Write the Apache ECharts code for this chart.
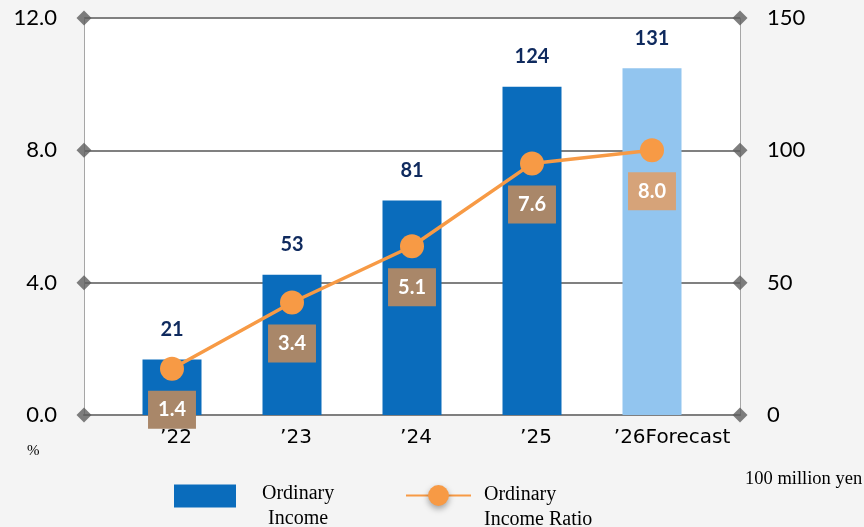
<!DOCTYPE html>
<html>
<head>
<meta charset="utf-8">
<script src="https://cdn.jsdelivr.net/npm/echarts@6/dist/echarts.min.js"></script>
<style>
  html, body { margin: 0; padding: 0; background: #f4f4f4; }
  #chart { width: 864px; height: 527px; }
</style>
</head>
<body>
<div id="chart"></div>
<script>
// data
var categories = ['’22', '’23', '’24', '’25', '’26Forecast'];
var incomeValues = [21, 53, 81, 124, 131];      // 100 million yen
var ratioValues = [1.4, 3.4, 5.1, 7.6, 8.0];    // %
var leftTicks = [0, 4, 8, 12];
var rightTicks = [0, 50, 100, 150];

var barBlue = '#0a6cbc';
var barForecast = '#92c5ef';
var orange = '#f79a45';
var serif = 'Liberation Serif';

var myChart = echarts.init(document.getElementById('chart'));

// diamonds on both ends of every grid line
var diamonds = [];
leftTicks.forEach(function (v) {
    diamonds.push([0, v]);
    diamonds.push([1, v]);
});

var option = {
    backgroundColor: '#f4f4f4',
    animation: false,
    grid: [
        {left: 84, right: 124, top: 18, bottom: 112, show: true, backgroundColor: '#fff', borderWidth: 0},
        {left: 112, right: 152, top: 18, bottom: 112}
    ],
    xAxis: [
        {
            gridIndex: 0, type: 'category', data: ['a', 'b'], boundaryGap: false,
            axisLine: {lineStyle: {color: '#7f7f7f', width: 2}},
            axisTick: {show: false}, axisLabel: {show: false}
        },
        {
            gridIndex: 1, type: 'category', data: categories,
            axisLine: {show: false}, axisTick: {show: false},
            axisLabel: {
                interval: 0, margin: 13,
                // the long forecast label sits a bit right of its bar in the original
                formatter: function (v, i) {
                    return i === categories.length - 1 ? '{f|' + v + '}' : '{n|' + v + '}';
                },
                rich: {
                    n: {color: '#000', fontSize: 20, fontFamily: 'DejaVu Sans', padding: [0, 0, 0, 8]},
                    f: {color: '#000', fontSize: 20, fontFamily: 'DejaVu Sans', padding: [0, 0, 0, 40]}
                }
            }
        }
    ],
    yAxis: [
        {
            gridIndex: 0, position: 'left', min: 0, max: 12, interval: 4,
            axisLine: {show: true, lineStyle: {color: '#a6a6a6', width: 1}},
            axisTick: {show: false},
            splitLine: {lineStyle: {color: '#808080', width: 2}},
            axisLabel: {
                color: '#000', fontSize: 22, margin: 27, fontFamily: 'Lato',
                formatter: function (v) { return v.toFixed(1); }
            }
        },
        {
            gridIndex: 0, position: 'right', min: 0, max: 150, interval: 50,
            axisLine: {show: true, lineStyle: {color: '#a6a6a6', width: 1}},
            axisTick: {show: false}, splitLine: {show: false},
            axisLabel: {color: '#000', fontSize: 22, margin: 27, fontFamily: 'Lato'}
        },
        {gridIndex: 1, min: 0, max: 150, show: false},
        {gridIndex: 1, min: 0, max: 12, show: false}
    ],
    legend: [
        {
            data: ['Ordinary Income'], left: 169, top: 479,
            itemWidth: 62, itemHeight: 23, icon: 'rect',
            formatter: function () { return '{c|Ordinary}\n{c|Income}'; },
            textStyle: {
                padding: [21, 0, 0, 21],
                rich: {c: {align: 'center', color: '#000', fontFamily: serif, fontSize: 20, lineHeight: 25}}
            }
        },
        {
            data: ['Ordinary Income Ratio'], left: 400, top: 480,
            itemWidth: 65, itemHeight: 26,
            itemStyle: {shadowColor: 'rgba(0,0,0,0.35)', shadowBlur: 6, shadowOffsetY: 3},
            formatter: function () { return '{c|Ordinary}\n{c|Income Ratio}'; },
            textStyle: {
                padding: [24, 0, 0, 8],
                rich: {c: {align: 'left', color: '#000', fontFamily: serif, fontSize: 20, lineHeight: 25}}
            }
        }
    ],
    graphic: [
        {type: 'text', left: 27, top: 444, style: {text: '%', fontSize: 15, fontFamily: serif, fill: '#000'}},
        {type: 'text', left: 745, top: 470, style: {text: '100 million yen', fontSize: 18.5, fontFamily: serif, fill: '#000'}}
    ],
    series: [
        {
            name: 'Ordinary Income', type: 'bar', xAxisIndex: 1, yAxisIndex: 2,
            barWidth: 59, itemStyle: {color: barBlue},
            data: incomeValues.map(function (v, i) {
                return i === incomeValues.length - 1 ? {value: v, itemStyle: {color: barForecast}} : v;
            }),
            label: {
                show: true, position: 'top', distance: 20,
                color: '#0f2a5e', fontWeight: 'bold', fontSize: 20, fontFamily: 'Lato'
            }
        },
        {
            name: 'Ordinary Income Ratio', type: 'line', xAxisIndex: 1, yAxisIndex: 3,
            symbol: 'circle', symbolSize: 24, z: 5,
            itemStyle: {color: orange}, lineStyle: {color: orange, width: 3.5},
            data: ratioValues.map(function (v, i) {
                return i === ratioValues.length - 1 ? {value: v, label: {backgroundColor: '#d6a379'}} : v;
            }),
            label: {
                show: true, position: 'bottom', distance: 10,
                color: '#fff', fontWeight: 'bold', fontSize: 20, fontFamily: 'Lato',
                backgroundColor: '#a98769', padding: [9, 10],
                formatter: function (p) { return p.value.toFixed(1); }
            }
        },
        {
            type: 'scatter', xAxisIndex: 0, yAxisIndex: 0, silent: true, z: 10,
            symbol: 'diamond', symbolSize: 15, itemStyle: {color: '#5e5e5e'},
            data: diamonds
        }
    ]
};

myChart.setOption(option);
</script>
</body>
</html>
